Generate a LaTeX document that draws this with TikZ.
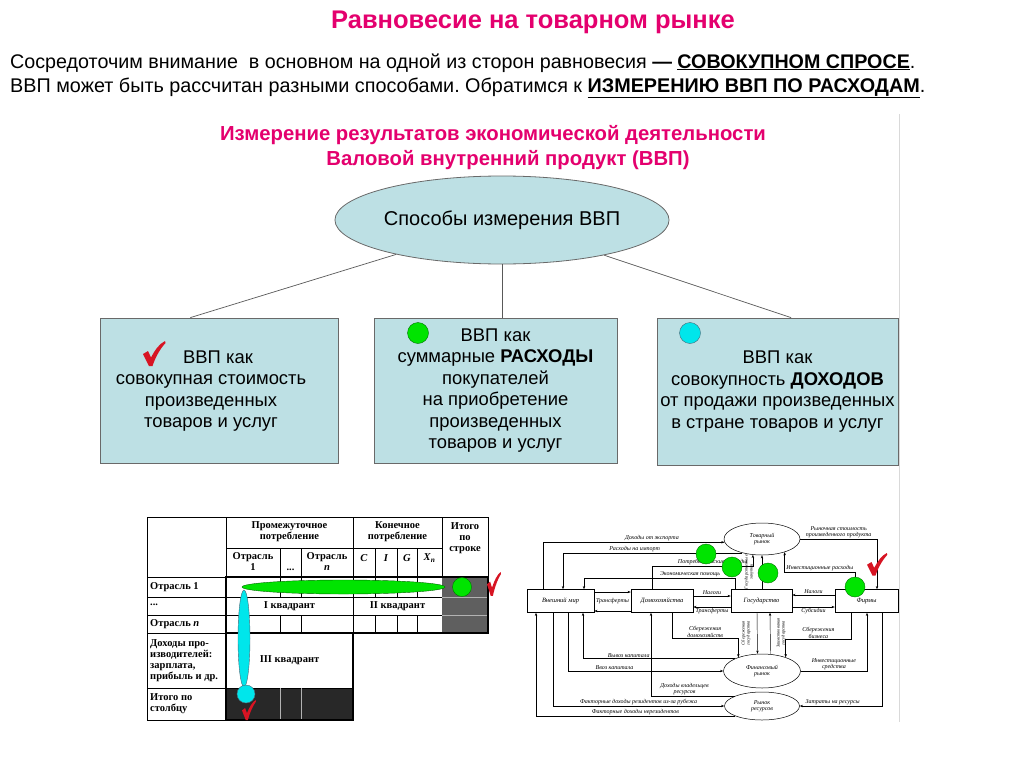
\documentclass[tikz,border=0pt]{standalone}
\usepackage{fontspec}
\setmainfont{Liberation Sans}
\newfontfamily\serifT{Liberation Serif}
\usetikzlibrary{shapes.geometric,arrows.meta,calc}
\frenchspacing
\definecolor{pinkT}{RGB}{228,0,110}
\definecolor{boxfill}{RGB}{189,224,228}
\definecolor{boxline}{RGB}{105,105,105}
\definecolor{grnC}{RGB}{0,228,0}
\definecolor{cyanC}{RGB}{0,230,235}
\definecolor{chkred}{RGB}{215,20,35}
\definecolor{cellgray}{RGB}{95,95,95}
\definecolor{celldark}{RGB}{40,40,40}
\tikzset{
  chk/.pic={\fill[chkred] (0,13) -- (5,10) -- (8,16.5) .. controls (12,9) and (16,3) .. (22,0) -- (22.5,2) .. controls (17,8) and (12.5,16) .. (9.5,25) -- (6,25) .. controls (4,21) and (2,17) .. (0,13) -- cycle;},
  gbox/.style={draw=boxline, fill=boxfill, line width=0.8pt, align=center, font=\fontsize{18.4}{21.5}\selectfont, inner sep=0pt},
  gtxt/.style={align=center, font=\fontsize{18.4}{21.5}\selectfont, inner sep=0pt},
  linkln/.style={draw=black!65, line width=0.7pt},
  gdot/.style={circle, fill=grnC, draw=green!45!black, line width=0.4pt, minimum size=21pt, inner sep=0pt},
  cdot/.style={circle, fill=cyanC, draw=cyan!40!black, line width=0.4pt, minimum size=21pt, inner sep=0pt},
  tl/.style={font=\serifT\bfseries\fontsize{10.5}{11}\selectfont, align=center, inner sep=0pt},
  tll/.style={font=\serifT\bfseries\fontsize{10.5}{11}\selectfont, align=left, anchor=west, inner sep=0pt},
  fbx/.style={draw, line width=0.5pt, fill=white, minimum height=23pt, inner sep=0pt, font=\serifT\itshape\fontsize{6.5}{7}\selectfont},
  fel/.style={draw, ellipse, line width=0.5pt, fill=white, inner sep=0pt, align=center, font=\serifT\itshape\fontsize{6}{6.5}\selectfont},
  fl/.style={draw, line width=0.45pt, -{Stealth[length=3.2pt,width=2.4pt]}},
  flab/.style={font=\serifT\itshape\fontsize{6}{6.5}\selectfont, inner sep=0.8pt, align=center},
  vlab/.style={font=\serifT\itshape\fontsize{4.5}{5}\selectfont, inner sep=0pt, align=center, rotate=90},
}
\begin{document}
\begin{tikzpicture}[x=1pt,y=-1pt]
\useasboundingbox (0,0) rectangle (1024,768);
\fill[white] (0,0) rectangle (1024,768);

% ---- top texts
\node[anchor=base, font=\bfseries\fontsize{25.5}{30}\selectfont, text=pinkT, inner sep=0] (title) at (533,29) {Равновесие на товарном рынке};
\node[anchor=base west, font=\fontsize{19.7}{22}\selectfont, inner sep=0] (l1) at (10,68) {Сосредоточим внимание~ в основном на одной из сторон равновесия \textbf{— \underline{СОВОКУПНОМ СПРОСЕ}}.};
\node[anchor=base west, font=\fontsize{19.8}{22}\selectfont, inner sep=0] (l2) at (10,92) {ВВП может быть рассчитан разными способами. Обратимся к \textbf{\underline{ИЗМЕРЕНИЮ ВВП ПО РАСХОДАМ}}.};

\node[anchor=base, font=\bfseries\fontsize{20.3}{24}\selectfont, text=pinkT, inner sep=0] (h1) at (493,140) {Измерение результатов экономической деятельности};
\node[anchor=base, font=\bfseries\fontsize{20.3}{24}\selectfont, text=pinkT, inner sep=0] (h2) at (508,165) {Валовой внутренний продукт (ВВП)};

\draw[gray!30, line width=1pt] (899,114) -- (899,722);

% ---- ellipse and three boxes
\node[ellipse, draw=boxline, fill=boxfill, line width=0.8pt, minimum width=294pt, minimum height=88pt, inner sep=0, font=\fontsize{20}{24}\selectfont] (ell) at (502,220) {Способы измерения ВВП};

\node[gbox, minimum width=238pt, minimum height=145pt] (b1) at (219,390.5) {};
\node[gtxt] (t1) at (211,391) {\hspace*{14pt}ВВП как\\совокупная стоимость\\произведенных\\товаров и услуг};
\node[gbox, minimum width=243pt, minimum height=145pt] (b2) at (495.5,390.5) {ВВП как\\суммарные \textbf{РАСХОДЫ}\\покупателей\\на приобретение\\произведенных\\товаров и услуг};
\node[gbox, minimum width=241pt, minimum height=147pt] (b3) at (777.5,391.5) {ВВП как\\совокупность \textbf{ДОХОДОВ}\\от продажи произведенных\\в стране товаров и услуг};

\draw[linkln] (ell.198) -- ($(b1.north west)!0.38!(b1.north east)$);
\draw[linkln] (ell.south) -- (ell.south |- b2.north);
\draw[linkln] (ell.341) -- ($(b3.north west)!0.556!(b3.north east)$);

\pic at (143,341) {chk};
\node[gdot] (d2) at (418,333) {};
\node[cdot] (d3) at (690,333) {};

% ---- table
\fill[cellgray] (442,577) rectangle (488,633);
\fill[celldark] (226,688) rectangle (353,720);
\draw[line width=0.6pt] (147,517) rectangle (488,577);
\draw[line width=0.6pt] (147,577) -- (147,720) -- (226,720);
\draw[line width=0.6pt] (226,517) -- (226,720);
\draw[line width=0.6pt] (353,517) -- (353,577);
\draw[line width=0.6pt] (442,517) -- (442,577);
\draw[line width=0.6pt] (226,548) -- (442,548);
\foreach \xx in {280,301,375,397,417} \draw[line width=0.6pt] (\xx,548) -- (\xx,577);
\foreach \yy in {597,615,633,688} \draw[line width=0.6pt] (147,\yy) -- (226,\yy);
\draw[line width=0.6pt] (226,597) -- (442,597);
\draw[line width=0.6pt] (226,615) -- (442,615);
\foreach \xx in {280,301,353,375,397,417} {\draw[line width=0.6pt] (\xx,577) -- (\xx,597); \draw[line width=0.6pt] (\xx,615) -- (\xx,633);}
\draw[line width=0.6pt] (353,597) -- (353,615);
\draw[line width=0.6pt] (226,688) -- (353,688);
\draw[gray!60, line width=0.6pt] (442,597) -- (488,597) (442,615) -- (488,615);
\draw[gray!60, line width=0.6pt] (280,688) -- (280,720) (301,688) -- (301,720);
\draw[line width=2pt] (226,577) rectangle (488,633);
\draw[line width=2pt] (226,633) rectangle (353,720);

\node[tl] (hpp) at (289.5,532) {Промежуточное\\потребление};
\node[tl] (hkp) at (397.5,532) {Конечное\\потребление};
\node[tl] (hit) at (465,538) {Итого\\по\\строке};
\node[tl] (ho1) at (253,562) {Отрасль\\1};
\node[tl] (hdd) at (290.5,570) {...};
\node[tl] (hon) at (327,562) {Отрасль\\\textit{n}};
\node[tl] (hc) at (364,558) {\textit{C}};
\node[tl] (hi) at (386,558) {\textit{I}};
\node[tl] (hg) at (407,558) {\textit{G}};
\node[tl] (hx) at (429.5,558) {\textit{X}\textsubscript{\textit{n}}};
\node[tll] (r1) at (150,587) {Отрасль 1};
\node[tll] (r2) at (150,605) {...};
\node[tll] (r3) at (150,624) {Отрасль \textit{n}};
\node[tll] (r4) at (150,660.5) {Доходы про-\\изводителей:\\зарплата,\\прибыль и др.};
\node[tll] (r5) at (150,704) {Итого по\\столбцу};
\node[tl] (q1) at (289.5,606) {I квадрант};
\node[tl] (q2) at (397.5,606) {II квадрант};
\node[tl] (q3) at (289.5,660.5) {III квадрант};

\node[ellipse, fill=grnC, draw=green!40!black, line width=0.4pt, minimum width=203pt, minimum height=14pt, inner sep=0] (gell) at (343.5,587) {};
\node[ellipse, fill=cyanC, draw=cyan!40!black, line width=0.4pt, minimum width=12pt, minimum height=97pt, inner sep=0] (cell) at (244,638.5) {};
\node[gdot, minimum size=19pt] (td1) at (462,587) {};
\node[cdot, minimum size=18pt] (td2) at (246,694) {};
\pic[xscale=0.62, yscale=0.95] at (487,572) {chk};
\pic[xscale=0.62, yscale=0.8] at (242,700) {chk};

% ---- circular flow diagram
\node[fbx, minimum width=67pt] (world) at (560.5,601) {Внешний мир};
\node[fbx, minimum width=62pt] (house) at (662,601) {Домохозяйства};
\node[fbx, minimum width=61pt] (gov) at (761.5,601) {Государство};
\node[fbx, minimum width=63pt] (firms) at (866.5,601) {Фирмы};
\node[fel, minimum width=76pt, minimum height=32pt] (goods) at (762,539) {Товарный\\рынок};
\node[fel, minimum width=77pt, minimum height=34pt] (fin) at (762,671) {Финансовый\\рынок};
\node[fel, minimum width=75pt, minimum height=28pt] (res) at (762,706) {Рынок\\ресурсов};

\draw[fl] ([xshift=-17.5pt]world.north) |- node[flab, above, pos=0.8]{Доходы от экспорта} (goods.185);
\draw[fl] (goods.215) -| node[flab, above, pos=0.3]{Расходы на импорт} ([xshift=2.5pt]world.north);
\draw[fl] ([xshift=-10pt]house.north) |- node[flab, above, pos=0.8]{Потребительские расходы} ([yshift=-11pt]goods.240) -- (goods.240);
\draw[fl] ([xshift=-26pt]gov.north) -- ++(0,-11.5) -| node[flab, above, pos=0.15]{Экономическая помощь} ([xshift=23.5pt]world.north);
\draw[fl] ([yshift=9pt]world.east) -- ([yshift=9pt]house.west);
\draw[fl] ([yshift=-10pt]house.west) -- ([yshift=-10pt]world.east);
\node[flab] (trw) at ($(world.east)!0.5!(house.west)$) {Трансферты};
\draw[fl] ([yshift=5pt]house.east) -- node[flab, above]{Налоги} ([yshift=5pt]gov.west);
\draw[fl] ([yshift=-6pt]gov.west) -- node[flab, below]{Трансферты} ([yshift=-6pt]house.east);
\draw[fl] ([yshift=6pt]firms.west) -- node[flab, above]{Налоги} ([yshift=6pt]gov.east);
\draw[fl] ([yshift=-6pt]gov.east) -- node[flab, below]{Субсидии} ([yshift=-6pt]firms.west);
\draw[fl] ([xshift=0.5pt]gov.north) -- (goods.south);
\node[vlab] (vl1) at (749,572) {Государственные\\закупки};
\draw[fl] (goods.east) -| node[flab, above, pos=0.25]{Рыночная стоимость\\произведенного продукта} ([xshift=10.5pt]firms.north);
\draw[fl] ([xshift=-11.5pt]firms.north) -- ++(0,-17.5) -| node[flab, above, pos=0.25]{Инвестиционные расходы} (goods.330);
\draw[fl] ([xshift=10pt]house.south) -- ++(0,25.5) -| node[flab, above, pos=0.25]{Сбережения\\домохозяйств} (fin.150);
\draw[fl] ([xshift=-4.5pt]gov.south) -- ([xshift=-4.5pt]fin.north);
\node[vlab] (vl2) at (746,633) {Сбережения\\государства};
\draw[fl] ([xshift=8.5pt]fin.north) -- ([xshift=8.5pt]gov.south);
\node[vlab] (vl3) at (781,633) {Заимствования\\государства};
\draw[fl] ([xshift=-15.5pt]firms.south) -- ++(0,26.5) -| node[flab, above, pos=0.25]{Сбережения\\бизнеса} (fin.30);
\draw[fl] (fin.east) -| node[flab, above, pos=0.25]{Инвестиционные\\средства} ([xshift=0.5pt]firms.south);
\draw[fl] ([xshift=15.5pt]firms.south) |- node[flab, above, pos=0.8]{Затраты на ресурсы} (res.east);
\draw[fl] (res.160) -| node[flab, above, pos=0.3]{Доходы владельцев\\ресурсов} ([xshift=-11pt]house.south);
\draw[fl] (fin.155) -| node[flab, above, pos=0.35]{Вывоз капитала} ([xshift=22.5pt]world.south);
\draw[fl] ([xshift=7.5pt]world.south) |- node[flab, above, pos=0.65]{Ввоз капитала} (fin.west);
\draw[fl] ([xshift=-7.5pt]world.south) |- node[flab, above, pos=0.75]{Факторные доходы резидентов из-за рубежа} (res.west);
\draw[fl] (res.200) -| node[flab, above, pos=0.25]{Факторные доходы нерезидентов} ([xshift=-24.5pt]world.south);

\node[gdot, minimum size=20pt] (fd1) at (706,554) {};
\node[gdot, minimum size=20pt] (fd2) at (732,567) {};
\node[gdot, minimum size=20pt] (fd3) at (768,573) {};
\node[gdot, minimum size=20pt] (fd4) at (855,587) {};
\pic[scale=0.9] at (867,553) {chk};
\end{tikzpicture}
\end{document}
